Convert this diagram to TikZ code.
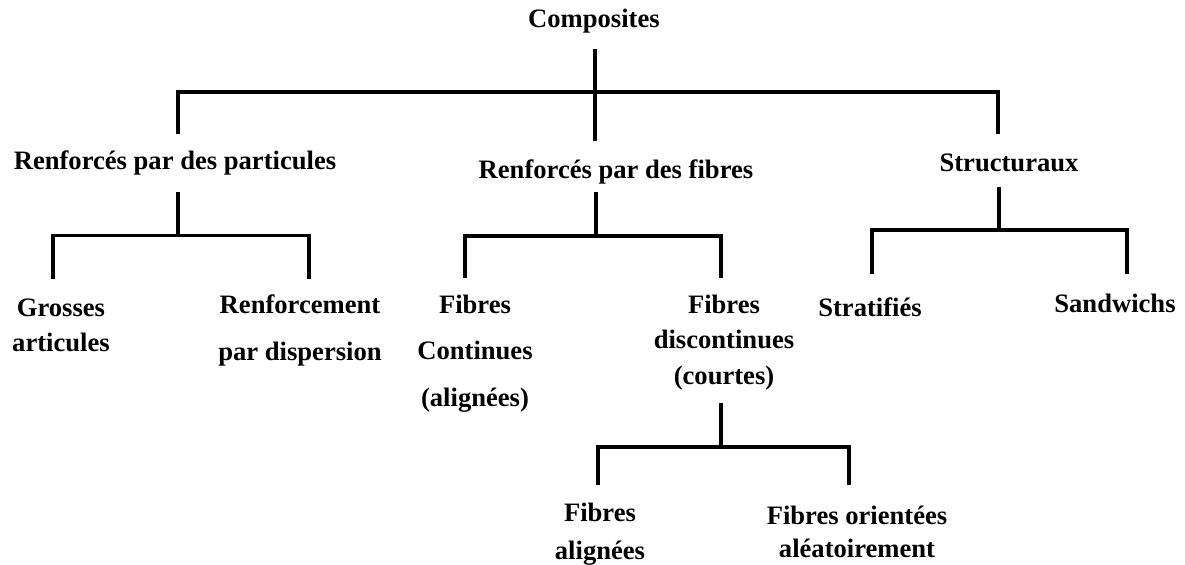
\documentclass[tikz,border=0pt]{standalone}
\usepackage{fontspec}
\setmainfont{Liberation Serif}
\begin{document}
\begin{tikzpicture}[x=0.5pt,y=-0.5pt,
  lbl/.style={inner sep=0pt,align=center,font=\fontsize{13.3}{17.5}\selectfont\bfseries},
  conn/.style={line width=1.8pt,line join=miter,line cap=butt}]
\useasboundingbox (0,0) rectangle (1185,565);
% labels
\node[lbl] (comp) at (594,21) {Composites};
\node[lbl] (part) at (175,163) {Renforcés par des particules};
\node[lbl] (fib) at (616,172) {Renforcés par des fibres};
\node[lbl] (struct) at (1009,163) {Structuraux};
\node[lbl,font=\fontsize{13.3}{17.5}\selectfont\bfseries] (gros) at (61,325.5) {Grosses\\articules};
\node[lbl,font=\fontsize{13.3}{23.5}\selectfont\bfseries] (disp) at (300,330.5) {Renforcement\\par dispersion};
\node[lbl,font=\fontsize{13.3}{23.25}\selectfont\bfseries] (cont) at (475,353.5) {Fibres\\Continues\\(alignées)};
\node[lbl,font=\fontsize{13.3}{17.75}\selectfont\bfseries] (disc) at (724,342.5) {Fibres\\discontinues\\(courtes)};
\node[lbl] (strat) at (870,307) {Stratifiés};
\node[lbl] (sand) at (1115,303) {Sandwichs};
\node[lbl,font=\fontsize{13.3}{19}\selectfont\bfseries] (fal) at (600,534) {Fibres\\alignées};
\node[lbl,font=\fontsize{13.3}{16.5}\selectfont\bfseries] (ori) at (857,531.5) {Fibres orientées\\aléatoirement};
% connector points
\coordinate (rTop) at (595,49);
\coordinate (rBar) at (595,92);
\coordinate (rBot) at (595,141);
\coordinate (rL) at (178,134);
\coordinate (rR) at (998,134);
\coordinate (pTop) at (178,192);
\coordinate (pBar) at (178,235.5);
\coordinate (pL) at (53,279);
\coordinate (pR) at (309,279);
\coordinate (fTop) at (596,192);
\coordinate (fBar) at (596,236);
\coordinate (fL) at (465,278);
\coordinate (fR) at (721,278);
\coordinate (sTop) at (999,187);
\coordinate (sBar) at (999,230);
\coordinate (sL) at (872,274);
\coordinate (sR) at (1127,274);
\coordinate (dTop) at (721,403);
\coordinate (dBar) at (721,447);
\coordinate (dL) at (598,485);
\coordinate (dR) at (849,485);
% connectors
\draw[conn] (rTop) -- (rBot);
\draw[conn] (rL) |- (rBar) -| (rR);
\draw[conn] (pTop) -- (pBar);
\draw[conn] (pL) |- (pBar) -| (pR);
\draw[conn] (fTop) -- (fBar);
\draw[conn] (fL) |- (fBar) -| (fR);
\draw[conn] (sTop) -- (sBar);
\draw[conn] (sL) |- (sBar) -| (sR);
\draw[conn] (dTop) -- (dBar);
\draw[conn] (dL) |- (dBar) -| (dR);
\end{tikzpicture}
\end{document}
